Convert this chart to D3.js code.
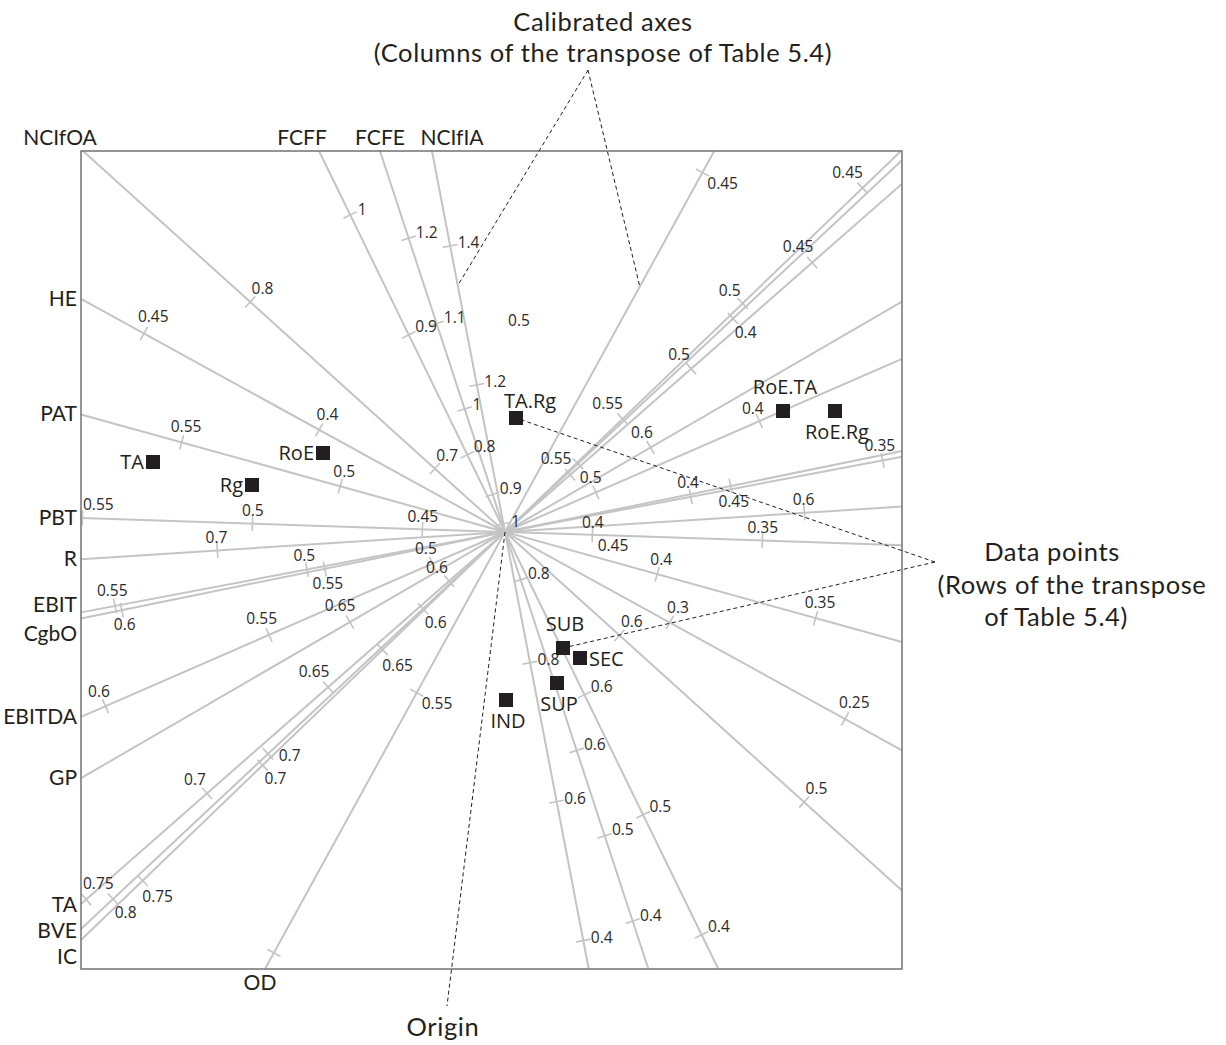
<!DOCTYPE html>
<html><head><meta charset="utf-8">
<script src="https://cdn.jsdelivr.net/npm/d3@7"></script>
<style>
body{margin:0;background:#fff;}
svg{display:block;font-family:"Open Sans","Noto Sans",sans-serif;}
.note,.axname{font-family:Lato,"Open Sans",sans-serif;}
</style></head><body>
<svg id="chart" width="1226" height="1045"></svg>
<script>
// Calibrated biplot axes: loading directions, value at the origin and value change per unit length
const axisNames  = ["NCIfOA","FCFF","FCFE","NCIfIA","HE","PAT","PBT","R","EBIT","CgbO","EBITDA","GP","TA","BVE","IC","OD"];
const axisDirX   = [-4.22,-1.86,-1.25,-0.73,-4.22,-4.22,-4.22,-4.22,-4.22,-4.22,-4.22,-4.22,-4.23,-4.23,-4.23,-2.40];
const axisDirY   = [ 3.81, 3.81, 3.81, 3.81, 2.32, 1.17, 0.14,-0.27,-0.80,-0.86,-1.84,-2.45,-3.71,-3.96,-4.07,-4.37];
const axisCentre = [0.662,0.7357,0.8559,0.9882,0.347,0.448,0.4257,0.651,0.4484,0.5056,0.4778,0.6242,0.5769,0.5471,0.599,0.5191];
const axisStep   = [0.0402,0.0749,0.1113,0.1414,0.025,0.0304,0.0294,0.0170,0.0256,0.02414,0.02804,0.01438,0.03106,0.0471,0.03003,0.01685];
const axisTicks  = [
  [0.5,0.6,0.7,0.8],
  [0.4,0.5,0.6,0.8,0.9,1],
  [0.4,0.5,0.6,0.8,0.9,1,1.1,1.2],
  [0.4,0.6,0.8,1,1.2,1.4],
  [0.25,0.3,0.4,0.45],
  [0.35,0.4,0.5,0.55],
  [0.35,0.4,0.45,0.5,0.55],
  [0.6,0.7],
  [0.35,0.4,0.5,0.55],
  [0.45,0.55,0.6],
  [0.4,0.45,0.5,0.55,0.6],
  [0.6,0.65],
  [0.45,0.5,0.55,0.6,0.65,0.7,0.75],
  [0.4,0.5,0.6,0.7,0.8],
  [0.45,0.5,0.55,0.65,0.7,0.75],
  [0.45,0.55,0.6]
];
const unlabelledTicks = {EBITDA:[0.45], OD:[0.6]};
// calibration labels whose own marks are hidden under the bundle of lines near the origin
const looseLabels = ["0.5", "0.45"];

// Sample points (rows of the transposed table)
const pointNames = ["TA","Rg","RoE","TA.Rg","RoE.TA","RoE.Rg","SUB","SEC","SUP","IND"];
const pointX = [-3.52,-2.53,-1.82,0.11,2.78,3.30,0.58,0.75,0.52,0.01];
const pointY = [ 0.70, 0.47, 0.79,1.14,1.21,1.21,-1.16,-1.26,-1.51,-1.68];

// ---- layout ----
const box = {x0:81, x1:902, y0:151, y1:969};
const xDomain = [-4.24, 3.97], yDomain = [-4.37, 3.81];
// which side of each axis the calibration labels sit on: [name half, opposite half]
const labelSide = {CgbO:[-1,-1], BVE:[-1,-1], OD:[-1,-1], IC:[-1,1]};
const tickLabelNudge = {"BVE:0.7":[9,-12], "EBITDA:0.4":[0,2]};
const looseLabelPos = [[519,326],[613,551]];
const nameNudge = {NCIfOA:[-23,0], FCFF:[-17,0], NCIfIA:[20,0], EBIT:[0,-7], CgbO:[0,16], TA:[0,1], BVE:[0,2], IC:[0,17], OD:[-5,0]};
const pointLabelPlace = {"TA":"left","Rg":"left","RoE":"left","TA.Rg":"aboveRight","RoE.TA":"above","RoE.Rg":"below","SUB":"above","SEC":"right","SUP":"below","IND":"below"};

const axisCol = "#c4c4c4", inkCol = "#231f20";
const svg = d3.select("#chart");
const x = d3.scaleLinear().domain(xDomain).range([box.x0, box.x1]);
const y = d3.scaleLinear().domain(yDomain).range([box.y1, box.y0]);

const axes = axisNames.map((name,i)=>{
  const L = Math.hypot(axisDirX[i], axisDirY[i]);
  const ex = axisDirX[i]/L, ey = axisDirY[i]/L;
  // distance to the frame along a direction
  const hit = (sx,sy)=>{
    let t = Infinity, edge = null;
    if (sx>0){const v=xDomain[1]/sx; if(v<t){t=v;edge="right";}}
    if (sx<0){const v=xDomain[0]/sx; if(v<t){t=v;edge="left";}}
    if (sy>0){const v=yDomain[1]/sy; if(v<t){t=v;edge="top";}}
    if (sy<0){const v=yDomain[0]/sy; if(v<t){t=v;edge="bottom";}}
    return {t, edge};
  };
  const pos = hit(ex,ey), neg = hit(-ex,-ey);
  // screen direction and its upward normal
  const sx = ex, sy = -ey;
  let nx = -sy, ny = sx;
  if (ny > 0 || (ny === 0 && nx < 0)) { nx = -nx; ny = -ny; }
  return {name, ex, ey, nx, ny, pos, neg, centre:axisCentre[i], step:axisStep[i], ticks:axisTicks[i]};
});

svg.append("g").selectAll("line").data(axes).join("line")
  .attr("x1", a=>x(a.ex*a.pos.t)).attr("y1", a=>y(a.ey*a.pos.t))
  .attr("x2", a=>x(-a.ex*a.neg.t)).attr("y2", a=>y(-a.ey*a.neg.t))
  .attr("stroke", axisCol).attr("stroke-width", 2);

// calibration marks
const tickData = [];
axes.forEach(a=>{
  a.ticks.forEach(v=>{
    const s = (v - a.centre)/a.step;
    const side = (labelSide[a.name]||[1,1])[s>=0?0:1];
    tickData.push({a, v, s, px:x(a.ex*s), py:y(a.ey*s), side,
      labelled: !((unlabelledTicks[a.name]||[]).includes(v))});
  });
});
const tickHalf = 7.5;
svg.append("g").selectAll("line").data(tickData).join("line")
  .attr("x1", d=>d.px - d.a.nx*tickHalf).attr("y1", d=>d.py - d.a.ny*tickHalf)
  .attr("x2", d=>d.px + d.a.nx*tickHalf).attr("y2", d=>d.py + d.a.ny*tickHalf)
  .attr("stroke", axisCol).attr("stroke-width", 1.6);

const tickLabels = svg.append("g").selectAll("text").data(tickData.filter(d=>d.labelled)).join("text")
  .attr("font-size", 15.5).attr("fill", "#2a2a2a")
  .attr("text-anchor", "middle")
  .text(d=>String(d.v));
tickLabels.each(function(d){
  const w = this.getComputedTextLength(), h = 11;
  const Nx = d.a.nx*d.side, Ny = d.a.ny*d.side;
  const dist = 7 + Math.abs(Nx)*w/2 + Math.abs(Ny)*h/2;
  const nd = tickLabelNudge[d.a.name+":"+d.v] || [0,0];
  let cx = d.px + Nx*dist + nd[0];
  cx = Math.max(cx, box.x0 + 2 + w/2);   // keep inside the frame
  d3.select(this).attr("x", cx).attr("y", d.py + Ny*dist + h/2 + nd[1]);
});
svg.append("g").selectAll("text").data(looseLabels).join("text")
  .attr("font-size", 15.5).attr("fill", "#2a2a2a").attr("text-anchor","middle")
  .attr("x", (d,i)=>looseLabelPos[i][0]).attr("y", (d,i)=>looseLabelPos[i][1]).text(d=>d);

// frame
svg.append("rect").attr("x", box.x0).attr("y", box.y0)
  .attr("width", box.x1-box.x0).attr("height", box.y1-box.y0)
  .attr("fill", "none").attr("stroke", "#7a7a7a").attr("stroke-width", 1.6);

// axis names at the frame
svg.append("g").selectAll("text").data(axes).join("text")
  .attr("class","axname")
  .attr("font-size", 21).attr("fill", inkCol)
  .each(function(a){
    const px = x(a.ex*a.pos.t), py = y(a.ey*a.pos.t);
    const nd = nameNudge[a.name] || [0,0];
    const t = d3.select(this).text(a.name);
    if (a.pos.edge === "left") {
      t.attr("text-anchor","end").attr("x", box.x0 - 4 + nd[0]).attr("y", py + nd[1] + 7);
    } else if (a.pos.edge === "top") {
      t.attr("text-anchor","middle").attr("x", px + nd[0]).attr("y", box.y0 - 6 + nd[1]);
    } else {
      t.attr("text-anchor","middle").attr("x", px + nd[0]).attr("y", box.y1 + 21 + nd[1]);
    }
  });

// annotation callouts (dashed)
const dash = (x1,y1,x2,y2)=>svg.append("line").attr("x1",x1).attr("y1",y1).attr("x2",x2).attr("y2",y2)
  .attr("stroke", inkCol).attr("stroke-width", 1).attr("stroke-dasharray","4,3");
const axisPoint = (name, s)=>{const a = axes.find(d=>d.name===name); return [x(a.ex*s), y(a.ey*s)];};
const idx = n=>pointNames.indexOf(n);
const cAx = [588, 70];
[axisPoint("NCIfIA", 2.51), axisPoint("OD", -2.80)].forEach(p=>dash(cAx[0],cAx[1],p[0],p[1]));
const cPt = [935, 562];
["TA.Rg","SUB"].forEach(n=>dash(cPt[0],cPt[1], x(pointX[idx(n)]), y(pointY[idx(n)])));
dash(x(0), y(0), 447, 1006);

// sample points
const pts = pointNames.map((n,i)=>({n, px:x(pointX[i]), py:y(pointY[i])}));
const sq = 14;
svg.append("g").selectAll("rect").data(pts).join("rect")
  .attr("x", d=>d.px-sq/2).attr("y", d=>d.py-sq/2).attr("width", sq).attr("height", sq)
  .attr("fill", inkCol);
svg.append("g").selectAll("text").data(pts).join("text")
  .attr("font-size", 20).attr("fill", inkCol)
  .each(function(d){
    const t = d3.select(this).text(d.n);
    const p = pointLabelPlace[d.n];
    if (p==="left") t.attr("text-anchor","end").attr("x", d.px-9).attr("y", d.py+7);
    else if (p==="right") t.attr("text-anchor","start").attr("x", d.px+9).attr("y", d.py+8);
    else if (p==="above") t.attr("text-anchor","middle").attr("x", d.px+2).attr("y", d.py-17);
    else if (p==="aboveRight") t.attr("text-anchor","start").attr("x", d.px-12).attr("y", d.py-10);
    else t.attr("text-anchor","middle").attr("x", d.px+2).attr("y", d.py+28);
  });

// annotation texts
const notes = [
  ["Calibrated axes", 603, 31],
  ["(Columns of the transpose of Table 5.4)", 603, 62],
  ["Data points", 1052, 561],
  ["(Rows of the transpose", 1072, 594],
  ["of Table 5.4)", 1056, 626],
  ["Origin", 443, 1036]
];
svg.append("g").selectAll("text").data(notes).join("text")
  .attr("class","note")
  .attr("font-size", 25.5).attr("letter-spacing", 0.6).attr("fill", inkCol).attr("text-anchor","middle")
  .attr("x", d=>d[1]).attr("y", d=>d[2]).text(d=>d[0]);
</script>
</body></html>
